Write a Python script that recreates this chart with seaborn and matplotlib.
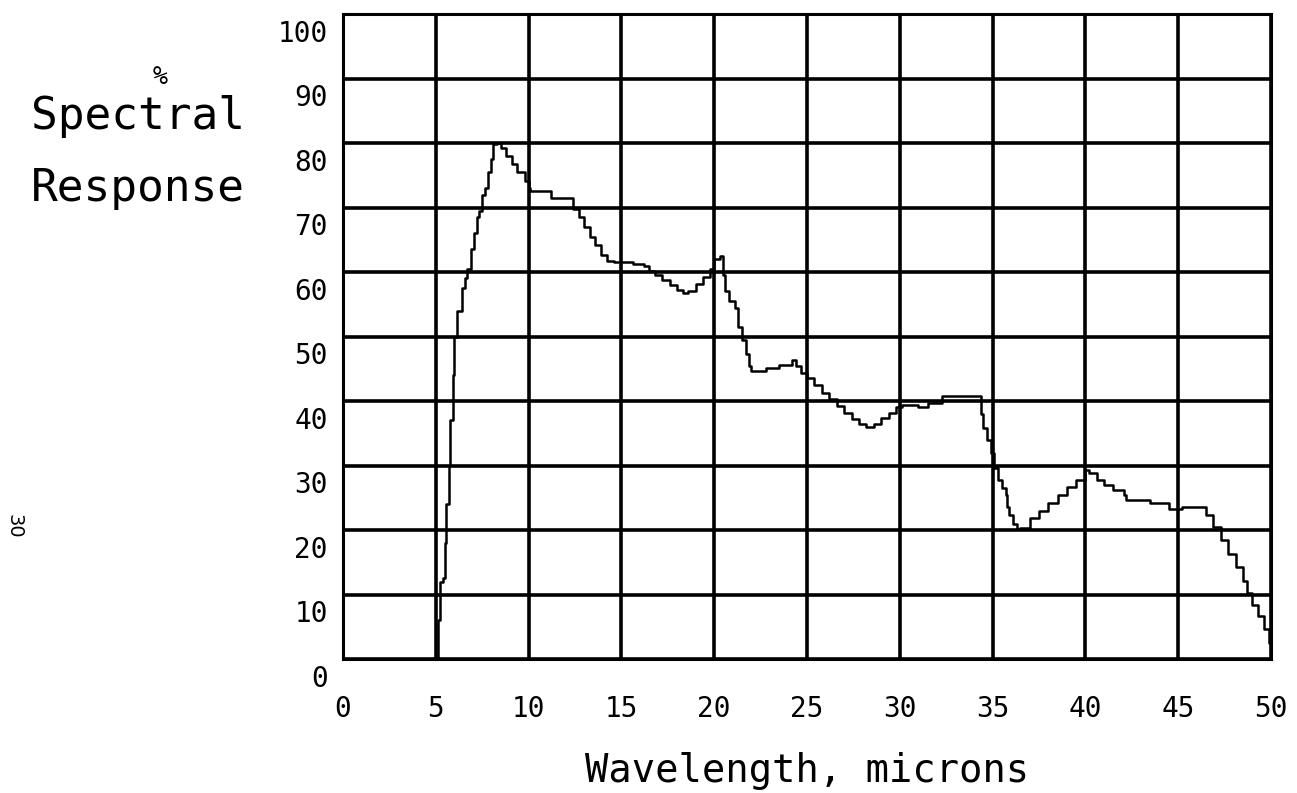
import matplotlib
matplotlib.use("Agg")
import matplotlib.pyplot as plt
import matplotlib.transforms as mtransforms
import seaborn as sns

wavelength = [
    5.05, 5.1, 5.2, 5.4, 5.5, 5.55, 5.7, 5.75, 5.95, 6.0, 6.15, 6.4, 6.6, 6.7,
    6.9, 7.05, 7.2, 7.35, 7.5, 7.65, 7.8, 7.95, 8.1, 8.3, 8.5, 8.8, 9.1, 9.4,
    9.8, 10.0, 10.1, 10.6, 11.2, 11.8, 12.3, 12.4, 12.7, 13.0, 13.3, 13.6,
    13.9, 14.2, 14.6, 15.0, 15.6, 16.2, 16.5, 16.8, 17.2, 17.6, 18.0, 18.3,
    18.6, 19.0, 19.4, 19.8, 20.0, 20.3, 20.45, 20.6, 20.8, 21.1, 21.3, 21.5,
    21.7, 21.9, 22.0, 22.7, 22.8, 23.4, 23.5, 24.1, 24.2, 24.4, 24.7, 25.0,
    25.4, 25.8, 26.2, 26.6, 27.0, 27.4, 27.8, 28.2, 28.6, 29.0, 29.4, 29.8,
    30.1, 30.6, 31.0, 31.4, 31.5, 32.2, 32.3, 34.3, 34.4, 34.5, 34.7, 34.9,
    35.1, 35.3, 35.5, 35.7, 35.8, 35.9, 36.1, 36.3, 36.5, 37.0, 37.5, 38.0,
    38.5, 39.0, 39.5, 40.0, 40.2, 40.6, 41.0, 41.5, 42.1, 42.2, 43.4, 43.5,
    44.4, 44.5, 45.0, 45.2, 46.3, 46.5, 46.9, 47.3, 47.7, 48.1, 48.5, 48.7,
    49.0, 49.3, 49.6, 49.9, 50.0,
]
response = [
    0, 6, 12, 12.5, 18, 24, 30, 37, 44, 50, 54, 57.5, 59, 60.5,
    63.5, 66, 68.5, 69.5, 72, 73, 75.5, 77.5, 79.8, 80, 79.3, 78, 76.8, 75.5,
    74.1, 73, 72.5, 72.5, 71.5, 71.5, 71.5, 69.7, 68.5, 67, 65.5, 64.2,
    62.7, 61.7, 61.5, 61.5, 61.2, 61.0, 60.2, 59.6, 58.8, 58.0, 57.2, 56.8,
    57, 58.2, 59.3, 60.4, 62, 62.5, 59.5, 57, 55.5, 54.4, 51.4, 49.5,
    47.3, 45.5, 44.6, 44.6, 45.1, 45.1, 45.6, 45.6, 46.3, 45.4, 44.3, 43.6,
    42.5, 41.3, 40.3, 39.2, 38.2, 37.2, 36.4, 36.0, 36.4, 37.3, 38.2, 39.0,
    39.4, 39.4, 39.0, 39.0, 39.7, 39.7, 40.7, 40.7, 38, 35.8, 34, 32,
    29.6, 27.8, 26.5, 25.5, 23.5, 22.4, 21, 20.2, 20.3, 21.8, 22.9, 24.2,
    25.4, 26.6, 27.8, 29.3, 28.8, 27.8, 27, 26.2, 25.5, 24.7, 24.7, 24.2,
    24.2, 23.2, 23.2, 23.5, 23.5, 22.4, 20.4, 18.4, 16.3, 14.2, 12.1, 10.2,
    8.3, 6.6, 4.7, 2.5, 0.8,
]
x_ticks = [0, 5, 10, 15, 20, 25, 30, 35, 40, 45, 50]
y_ticks = [0, 10, 20, 30, 40, 50, 60, 70, 80, 90, 100]

sns.set_theme(style="white")
plt.rcParams['font.family'] = ['DejaVu Sans Mono']
plt.rcParams['text.color'] = 'black'

fig = plt.figure(figsize=(12.97, 7.93), dpi=100)
ax = fig.add_axes([343 / 1297, 134 / 793, 928 / 1297, 645 / 793])

sns.lineplot(x=wavelength, y=response, ax=ax, color='black', linewidth=1.8,
             drawstyle='steps-post', estimator=None, sort=False)

ax.set_xlim(0, 50)
ax.set_ylim(0, 100)
ax.set_xticks(x_ticks)
ax.set_xticklabels([str(v) for v in x_ticks], fontsize=20, color='black')
ax.set_yticks(y_ticks)
ax.set_yticklabels([str(v) for v in y_ticks], fontsize=20, color='black')
ax.tick_params(axis='both', length=0)
ax.tick_params(axis='x', pad=26)
ax.tick_params(axis='y', pad=11)

# y labels sit just under their grid line
shift = mtransforms.ScaledTranslation(0, -4 / 72, fig.dpi_scale_trans)
for lab in ax.get_yticklabels():
    lab.set_verticalalignment('top')
    lab.set_transform(lab.get_transform() + shift)

ax.grid(True, color='black', linewidth=2.6)
ax.set_axisbelow(True)
for s in ax.spines.values():
    s.set_color('black')
    s.set_linewidth(2.2)

ax.set_xlabel('Wavelength, microns', fontsize=28, color='black', va='top')
ax.xaxis.set_label_coords(0.5, -0.144)

fig.text(160 / 1297, 1 - 77 / 793, '%', fontsize=18, ha='center', va='center')
fig.text(138 / 1297, 1 - 117 / 793, 'Spectral', fontsize=32, ha='center', va='center')
fig.text(138 / 1297, 1 - 189 / 793, 'Response', fontsize=32, ha='center', va='center')
fig.text(14 / 1297, 1 - 526 / 793, '30', fontsize=14, rotation=270,
         ha='center', va='center', family='DejaVu Sans')

fig.savefig('out.png', dpi=100)
